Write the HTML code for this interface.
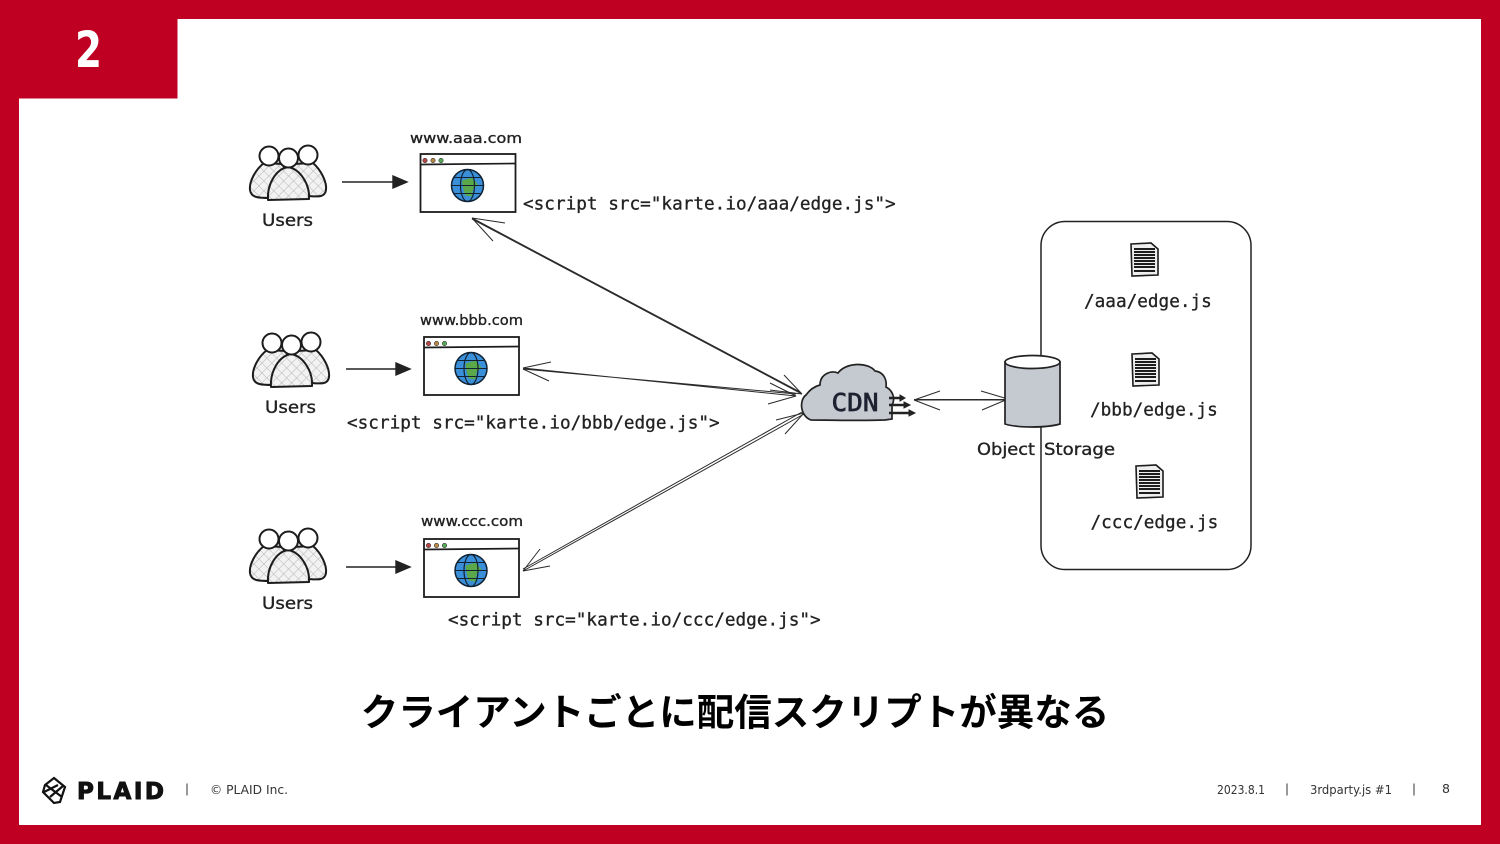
<!DOCTYPE html>
<html><head><meta charset="utf-8"><style>
html,body{margin:0;padding:0;background:#fff}
svg{display:block}
.m{font-family:"DejaVu Sans Mono","Liberation Mono",monospace;font-size:17.7px;fill:#222;stroke:#222;stroke-width:.3px}
.h{font-family:"DejaVu Sans","Liberation Sans",sans-serif;fill:#222;stroke:#222;stroke-width:.35px}
.f{font-family:"DejaVu Sans","Liberation Sans",sans-serif;font-size:12.5px;fill:#333}
</style></head><body>
<svg width="1500" height="844" viewBox="0 0 1500 844" xmlns="http://www.w3.org/2000/svg">
<defs>
<pattern id="hat" width="7" height="7" patternUnits="userSpaceOnUse" patternTransform="rotate(45)">
<rect width="7" height="7" fill="#f2f2f2"/><path d="M0 0H7M0 0V7" stroke="#b5b5b5" stroke-width="1"/>
</pattern>
<g id="users" stroke="#1c1c1c" stroke-width="2" fill="url(#hat)" stroke-linejoin="round">
<path d="M15 17C6 24 0 36 1 44C2 52 10 52 22 52L40 40L34 18Z"/>
<path d="M64 17C72 24 78 36 77 44C76 51 70 51 60 50L40 40L44 18Z"/>
<circle cx="20" cy="10" r="9.500" fill="#fff"/>
<circle cx="59" cy="9" r="9.500" fill="#fff"/>
<path d="M39 21C27 23 18 38 19 54L60 53C61 38 51 23 39 21Z"/>
<circle cx="39.500" cy="12" r="9.500" fill="#fff"/>
</g>
<g id="browser">
<rect x="0.500" y="0.500" width="95" height="58" fill="#fff" stroke="#1c1c1c" stroke-width="1.800"/>
<path d="M0 11L96 10" stroke="#1c1c1c" stroke-width="1.700"/>
<circle cx="5" cy="7" r="2.200" fill="#b44" stroke="#333" stroke-width=".6"/>
<circle cx="13" cy="7" r="2.200" fill="#b84" stroke="#333" stroke-width=".6"/>
<circle cx="21" cy="7" r="2.200" fill="#5a5" stroke="#333" stroke-width=".6"/>
<circle cx="47.500" cy="32" r="16" fill="#3a8fd8" stroke="#123" stroke-width="1.500"/>
<path d="M42 27L52 24L58 31L53 36L52 43L45 42L43 34Z" fill="#5aa84a"/>
<path d="M31.500 32H63.500M34 24H61M34 40H61" stroke="#123" stroke-width="1.100" fill="none"/>
<ellipse cx="47.500" cy="32" rx="7" ry="16" stroke="#123" stroke-width="1.200" fill="none"/>
</g>
<g id="doc">
<path d="M1 1L21 0L28 6L28 32L2 33Z" fill="#eee" stroke="#1c1c1c" stroke-width="1.600"/>
<path d="M4 6H25M4 9H25M4 12H25M4 15H25M4 18H25M4 21H25M4 24H25M4 28H25" stroke="#1c1c1c" stroke-width="2"/>
</g>
</defs>

<rect width="1500" height="844" fill="#c00022"/>
<rect x="19" y="19" width="1462" height="806" fill="#fff"/>
<rect x="0" y="0" width="177.500" height="98.500" fill="#c00022"/>
<text x="88.500" y="67" text-anchor="middle" font-family="'DejaVu Sans',sans-serif" font-weight="700" font-size="50" fill="#fff" textLength="27" lengthAdjust="spacingAndGlyphs">2</text>

<!-- storage container -->
<rect x="1041" y="221.500" width="210" height="348" rx="24" fill="#fff" stroke="#222" stroke-width="1.500"/>

<!-- users -->
<use href="#users" x="249" y="146"/>
<use href="#users" x="252" y="333"/>
<use href="#users" x="249" y="529"/>
<g class="h" font-size="17">
<text x="262" y="226" textLength="51" lengthAdjust="spacingAndGlyphs">Users</text>
<text x="265" y="413" textLength="51" lengthAdjust="spacingAndGlyphs">Users</text>
<text x="262" y="609" textLength="51" lengthAdjust="spacingAndGlyphs">Users</text>
</g>

<!-- user arrows -->
<g stroke="#222" stroke-width="1.400" fill="#222">
<path d="M342 182H396" fill="none"/><path d="M393 176L407 182L393 188Z"/>
<path d="M346 369H400" fill="none"/><path d="M396 363L410 369L396 375Z"/>
<path d="M346 567H400" fill="none"/><path d="M396 561L410 567L396 573Z"/>
</g>

<!-- browsers -->
<use href="#browser" x="420" y="153.500"/>
<use href="#browser" x="423.500" y="336.500"/>
<use href="#browser" x="423.500" y="538.500"/>
<g class="h" font-size="14">
<text x="410" y="143" textLength="112" lengthAdjust="spacingAndGlyphs">www.aaa.com</text>
<text x="420" y="325" textLength="103" lengthAdjust="spacingAndGlyphs">www.bbb.com</text>
<text x="421" y="526" textLength="102" lengthAdjust="spacingAndGlyphs">www.ccc.com</text>
</g>

<!-- script labels -->
<text class="m" x="523" y="209.500">&lt;script src="karte.io/aaa/edge.js"&gt;</text>
<text class="m" x="347" y="428.500">&lt;script src="karte.io/bbb/edge.js"&gt;</text>
<text class="m" x="448" y="625.500">&lt;script src="karte.io/ccc/edge.js"&gt;</text>

<!-- connectors -->
<g stroke="#2a2a2a" stroke-width="1" fill="none">
<path d="M472 219L802 394M472 218L800 392"/>
<path d="M472 218L505 223M472 218L493 241"/>
<path d="M802 394L784 375M802 394L770 390"/>
<path d="M523 368L796 396M523 369L796 394"/>
<path d="M523 368L551 362M523 369L549 381"/>
<path d="M796 396L768 404M796 396L770 383"/>
<path d="M523 571L804 414M523 569L802 412"/>
<path d="M523 571L540 549M523 571L550 566"/>
<path d="M804 413L776 420M804 413L785 434"/>
<path d="M914 399.500H1008M914 400H1008"/>
<path d="M914 400L940 391M914 400L940 410"/>
<path d="M1008 399L981 391M1008 399L982 410"/>
</g>

<!-- cloud -->
<path d="M811 420C800 416 799 400 806 395C811 388 816 386 820 385C820 374 831 370 838 373C846 362 868 362 875 371C884 372 887 380 886 387C892 390 896 398 892 405L892 419L885 420C860 421 835 420 811 420Z" fill="#c5cad1" stroke="#222" stroke-width="1.700"/>
<text x="855" y="411" text-anchor="middle" font-family="'DejaVu Sans Mono','Liberation Mono',monospace" font-size="25" fill="#1c2230" stroke="#1c2230" stroke-width=".7" textLength="47" lengthAdjust="spacingAndGlyphs">CDN</text>
<g stroke="#222" stroke-width="2.400" fill="#222">
<path d="M889 398H901M889 405H906M889 413H911" fill="none"/>
<path d="M900 395L905 398L900 401ZM904 402L910 405L904 408ZM909 410L915 413L909 416Z" stroke-width="1"/>
</g>

<!-- cylinder -->
<path d="M1005 362V424C1018 428 1046 428 1060 424V362Z" fill="#c5cad1" stroke="#222" stroke-width="1.700"/>
<ellipse cx="1032.500" cy="362" rx="27.500" ry="6.500" fill="#fff" stroke="#222" stroke-width="1.700"/>
<text class="h" x="977" y="455" font-size="17" textLength="58" lengthAdjust="spacingAndGlyphs">Object</text>
<text class="h" x="1044" y="455" font-size="17" textLength="71" lengthAdjust="spacingAndGlyphs">Storage</text>

<!-- docs -->
<use href="#doc" x="1130" y="243"/>
<use href="#doc" x="1131" y="353"/>
<use href="#doc" x="1135" y="465"/>
<text class="m" x="1084" y="307">/aaa/edge.js</text>
<text class="m" x="1090" y="415.500">/bbb/edge.js</text>
<text class="m" x="1090.500" y="528">/ccc/edge.js</text>

<!-- title -->
<text x="735" y="725.500" text-anchor="middle" font-family="'Liberation Sans','Noto Sans CJK JP',sans-serif" font-weight="700" font-size="37.500" fill="#000">クライアントごとに配信スクリプトが異なる</text>

<!-- footer -->
<g fill="none" stroke="#111" stroke-width="2.200">
<path d="M54 778L65 787L60 802L54 803L43 792L45 785Z"/>
<path d="M46 785L62 797M44 792L58 785M50 797L63 786"/>
</g>
<text x="77" y="799" font-family="'DejaVu Sans','Liberation Sans',sans-serif" font-weight="700" font-size="23" fill="#111" stroke="#111" stroke-width="1" textLength="87" lengthAdjust="spacing">PLAID</text>
<path d="M187 783.500V795.500" stroke="#777" stroke-width="1.500"/>
<text class="f" x="210" y="794" textLength="78" lengthAdjust="spacingAndGlyphs">© PLAID Inc.</text>
<text class="f" x="1217" y="794" textLength="48" lengthAdjust="spacingAndGlyphs">2023.8.1</text>
<path d="M1287 783.500V795.500" stroke="#777" stroke-width="1.500"/>
<text class="f" x="1310" y="794" textLength="82" lengthAdjust="spacingAndGlyphs">3rdparty.js #1</text>
<path d="M1414 783.500V795.500" stroke="#777" stroke-width="1.500"/>
<text class="f" x="1442" y="793" textLength="8" lengthAdjust="spacingAndGlyphs">8</text>
</svg>
</body></html>
